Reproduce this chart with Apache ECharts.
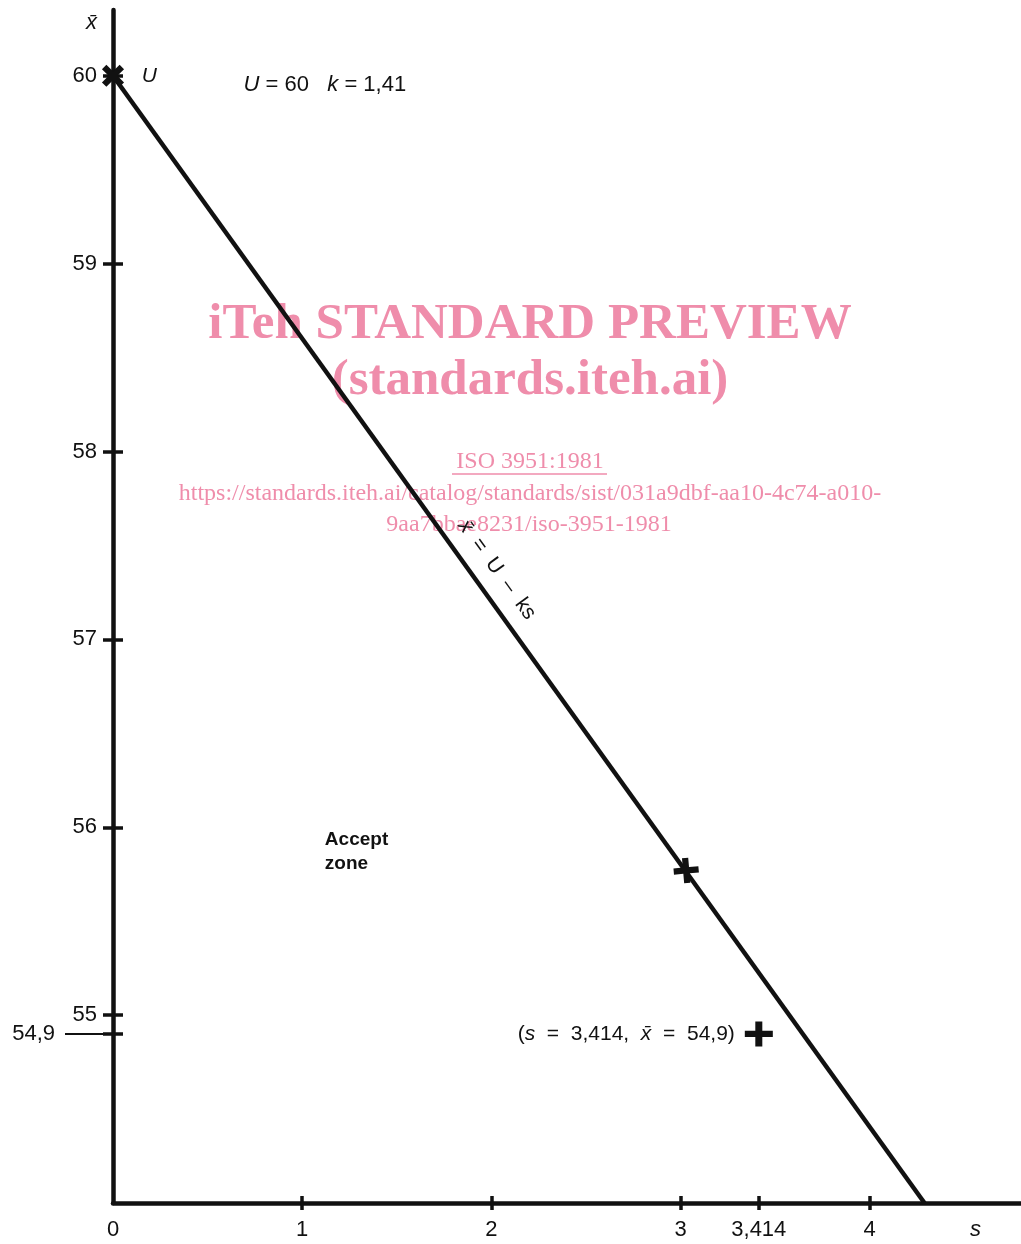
<!DOCTYPE html>
<html><head><meta charset="utf-8">
<script src="https://cdn.jsdelivr.net/npm/echarts@6/dist/echarts.min.js"></script>
<style>html,body{margin:0;padding:0;background:#fff}#c{width:1021px;height:1244px}</style>
</head><body><div id="c"></div>
<script>
// ---- data ----
const U = 60;
const k = 1.41;
const xTickValues = [1, 2, 3, 3.414, 4];
const xLabelValues = [0, 1, 2, 3, 3.414, 4];
const yTickValues = [54.9, 55, 56, 57, 58, 59, 60];
const yLabelValues = [55, 56, 57, 58, 59, 60];
const yExtraLabelValues = [54.9];
const acceptLineS = [0, 4.29];
const acceptLineX = [60, 54];
const upperLimitPoint = [0, 60];
const linePoint = [3.03, 55.77];
const samplePoint = [3.414, 54.9];

// ---- helpers / styles ----
const fmt = v => String(v).replace('.', ',');
const FONT = 'Liberation Sans';
const SERIF = 'Liberation Serif';
const ink = '#111';
const pink = '#EF8DAB';
const plusPath = 'path://M7.5,0 H12.5 V7.5 H20 V12.5 H12.5 V20 H7.5 V12.5 H0 V7.5 H7.5 Z';
const S_NAME_POS = 4.56;
const XBAR_NAME_POS = 60.28;
const near = (a, b) => Math.abs(a - b) < 1e-6;

const chart = echarts.init(document.getElementById('c'));

const tickStyle = {color: ink, width: 3.5};
const italicRich = {i: {fontStyle: 'italic', fontFamily: FONT, fontSize: 22, color: ink}};
const solid = {color: ink, opacity: 1};

const option = {
  animation: false,
  backgroundColor: '#fff',
  grid: {left: 113, right: 0, top: 10, bottom: 41, containLabel: false},
  xAxis: [
    {
      type: 'value', min: 0, max: 4.8, position: 'bottom',
      axisLine: {show: true, onZero: false, lineStyle: {color: ink, width: 4.5}},
      splitLine: {show: false},
      axisTick: {show: true, inside: false, length: 7, customValues: xTickValues, lineStyle: tickStyle},
      axisLabel: {
        show: true, customValues: xLabelValues.concat([S_NAME_POS]), margin: 16,
        color: ink, fontFamily: FONT, fontSize: 22,
        formatter: v => near(v, S_NAME_POS) ? '{i|s}' : fmt(v), rich: italicRich
      }
    },
    {
      type: 'value', min: 0, max: 4.8, position: 'bottom',
      axisLine: {show: false}, splitLine: {show: false},
      axisTick: {show: true, inside: true, length: 7, customValues: xTickValues, lineStyle: tickStyle},
      axisLabel: {show: false}
    }
  ],
  yAxis: [
    {
      type: 'value', min: 54, max: 60.35, position: 'left',
      axisLine: {show: true, onZero: false, lineStyle: {color: ink, width: 4.5}},
      splitLine: {show: false},
      axisTick: {show: true, inside: false, length: 10, customValues: yTickValues, lineStyle: tickStyle},
      axisLabel: {
        show: true, customValues: yLabelValues.concat([XBAR_NAME_POS]), margin: 16,
        color: ink, fontFamily: FONT, fontSize: 22,
        formatter: v => near(v, XBAR_NAME_POS) ? '{i|x\u0304}' : fmt(v), rich: italicRich
      }
    },
    {
      type: 'value', min: 54, max: 60.35, position: 'left',
      axisLine: {show: false}, splitLine: {show: false},
      axisTick: {show: true, inside: true, length: 10, customValues: yTickValues, lineStyle: tickStyle},
      axisLabel: {
        show: true, customValues: yExtraLabelValues, margin: 6,
        formatter: v => '{t|' + fmt(v) + '}{ln|}',
        rich: {
          t: {fontFamily: FONT, fontSize: 22, color: ink, padding: [0, 10, 0, 0]},
          ln: {width: 42, height: 2, backgroundColor: ink}
        }
      }
    }
  ],
  graphic: [
    {type: 'text', x: 530, y: 325, z: 0, silent: true,
     style: {text: 'iTeh STANDARD PREVIEW', font: 'bold 51px "' + SERIF + '"', fill: pink, textAlign: 'center', textVerticalAlign: 'middle'}},
    {type: 'text', x: 530, y: 381, z: 0, silent: true,
     style: {text: '(standards.iteh.ai)', font: 'bold 51px "' + SERIF + '"', fill: pink, textAlign: 'center', textVerticalAlign: 'middle'}},
    {type: 'text', x: 530, y: 462, z: 0, silent: true,
     style: {text: 'ISO 3951:1981', font: '24px "' + SERIF + '"', fill: pink, textAlign: 'center', textVerticalAlign: 'middle'}},
    {type: 'line', z: 0, silent: true, shape: {x1: 452, y1: 474, x2: 607, y2: 474}, style: {stroke: pink, lineWidth: 1.5}},
    {type: 'text', x: 530, y: 494, z: 0, silent: true,
     style: {text: 'https://standards.iteh.ai/catalog/standards/sist/031a9dbf-aa10-4c74-a010-', font: '24px "' + SERIF + '"', fill: pink, textAlign: 'center', textVerticalAlign: 'middle'}},
    {type: 'text', x: 529, y: 525, z: 0, silent: true,
     style: {text: '9aa7bbae8231/iso-3951-1981', font: '24px "' + SERIF + '"', fill: pink, textAlign: 'center', textVerticalAlign: 'middle'}}
  ],
  series: [
    {
      name: 'x = U - ks', type: 'line', xAxisIndex: 0, yAxisIndex: 0, z: 3,
      data: acceptLineS.map((s, i) => [s, acceptLineX[i]]),
      symbol: 'none', clip: false,
      lineStyle: {color: ink, width: 4.5}
    },
    {
      name: 'U', type: 'scatter', z: 4, clip: false,
      data: [upperLimitPoint],
      symbol: plusPath, symbolSize: 25, symbolRotate: 45,
      itemStyle: solid,
      label: {show: true, position: 'right', distance: 11, formatter: '{i|U}', rich: {i: {fontStyle: 'italic', fontFamily: FONT, fontSize: 21, color: ink}}}
    },
    {
      name: 'on line', type: 'scatter', z: 4, clip: false,
      data: [linePoint],
      symbol: plusPath, symbolSize: 25, symbolRotate: 5,
      itemStyle: solid
    },
    {
      name: 'sample', type: 'scatter', z: 4, clip: false,
      data: [samplePoint],
      symbol: plusPath, symbolSize: [28, 25],
      itemStyle: solid,
      label: {
        show: true, position: 'left', distance: 10,
        formatter: () => '({i|s}  =  ' + fmt(samplePoint[0]) + ',  {i|x\u0304}  =  ' + fmt(samplePoint[1]) + ')',
        fontFamily: FONT, fontSize: 21, color: ink,
        rich: {i: {fontStyle: 'italic', fontFamily: FONT, fontSize: 21, color: ink}}
      }
    },
    {
      name: 'annotations', type: 'scatter', z: 5, clip: false, symbolSize: 0, silent: true,
      itemStyle: solid,
      data: [
        {value: [0.69, 59.95], label: {show: true, position: 'right', distance: 0,
          formatter: '{i|U} = ' + U + '   {i|k} = ' + fmt(k),
          fontFamily: FONT, fontSize: 22, color: ink,
          rich: {i: {fontStyle: 'italic', fontFamily: FONT, fontSize: 22, color: ink}}}},
        {value: [1.12, 55.87], label: {show: true, position: 'right', distance: 0,
          formatter: 'Accept\nzone', fontFamily: FONT, fontWeight: 'bold', fontSize: 19, lineHeight: 24, color: ink, align: 'left'}},
        {value: [2.03, 57.37], label: {show: true, position: 'inside', rotate: -54,
          formatter: '{i|x\u0304}  =  U  \u2013  ks', fontFamily: FONT, fontSize: 21, color: ink,
          rich: {i: {fontStyle: 'italic', fontFamily: FONT, fontSize: 21, color: ink}}}}
      ]
    }
  ]
};
chart.setOption(option);
</script>
</body></html>
